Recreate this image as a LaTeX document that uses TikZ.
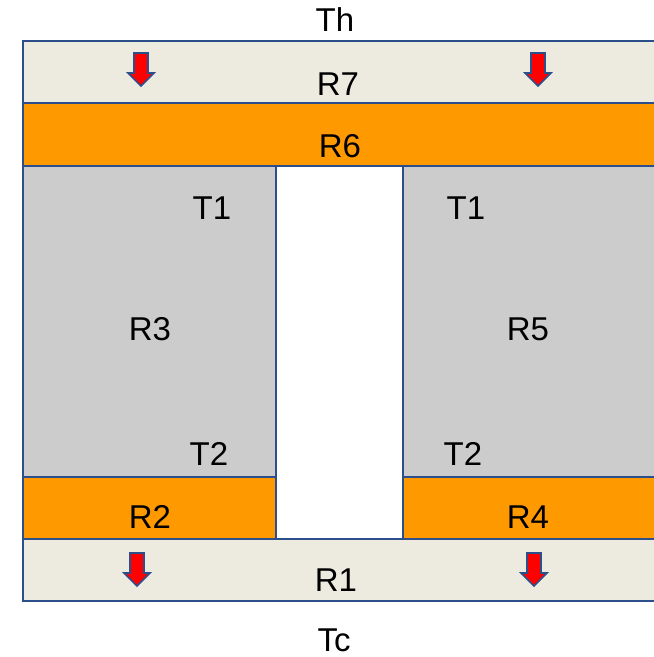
\documentclass[tikz,border=0pt]{standalone}
\usepackage{fontspec}
\setmainfont{Liberation Sans}
\definecolor{edgeblue}{RGB}{44,78,138}
\definecolor{beige}{RGB}{237,235,224}
\definecolor{orng}{RGB}{255,153,0}
\definecolor{greyfill}{RGB}{204,204,204}
\definecolor{arrowred}{RGB}{255,0,0}
\begin{document}
\begin{tikzpicture}[x=1pt,y=-1pt,
  layer/.style={draw=edgeblue,line width=2.2pt},
  lbl/.style={font=\fontsize{33}{33}\selectfont, inner sep=0pt, text height=23.6pt, text depth=0pt},
  heat/.style={fill=arrowred,draw=edgeblue,line width=1.6pt,line join=miter},
  downarrow/.pic={\draw[heat] (-7,0) -- (7,0) -- (7,20) -- (13,20) -- (0,33) -- (-13,20) -- (-7,20) -- cycle;}]
\useasboundingbox (0,0) rectangle (654,657);
\fill[white] (0,0) rectangle (654,657);
\begin{scope}
\clip (0,0) rectangle (654,657);
\draw[layer,fill=beige] (23,41) rectangle (670,103);
\draw[layer,fill=orng] (23,103) rectangle (670,166);
\draw[layer,fill=greyfill] (23,166) rectangle (276,477);
\draw[layer,fill=greyfill] (403,166) rectangle (670,477);
\draw[layer,fill=orng] (23,477) rectangle (276,539);
\draw[layer,fill=orng] (403,477) rectangle (670,539);
\draw[layer,fill=beige] (23,539) rectangle (670,601);
\end{scope}
\pic at (141,53) {downarrow};
\pic at (538,53) {downarrow};
\pic at (137,553) {downarrow};
\pic at (534,553) {downarrow};
\node[lbl] (th) at (335,20) {Th};
\node[lbl] (r7) at (338,84) {R7};
\node[lbl] (r6) at (340,146) {R6};
\node[lbl] (t1l) at (212,208) {T1};
\node[lbl] (t1r) at (466,208) {T1};
\node[lbl] (r3) at (150,329) {R3};
\node[lbl] (r5) at (528,329) {R5};
\node[lbl] (t2l) at (209,454) {T2};
\node[lbl] (t2r) at (463,454) {T2};
\node[lbl] (r2) at (150,517) {R2};
\node[lbl] (r4) at (528,517) {R4};
\node[lbl] (r1) at (336,580) {R1};
\node[lbl] (tc) at (334,640) {Tc};
\end{tikzpicture}
\end{document}
